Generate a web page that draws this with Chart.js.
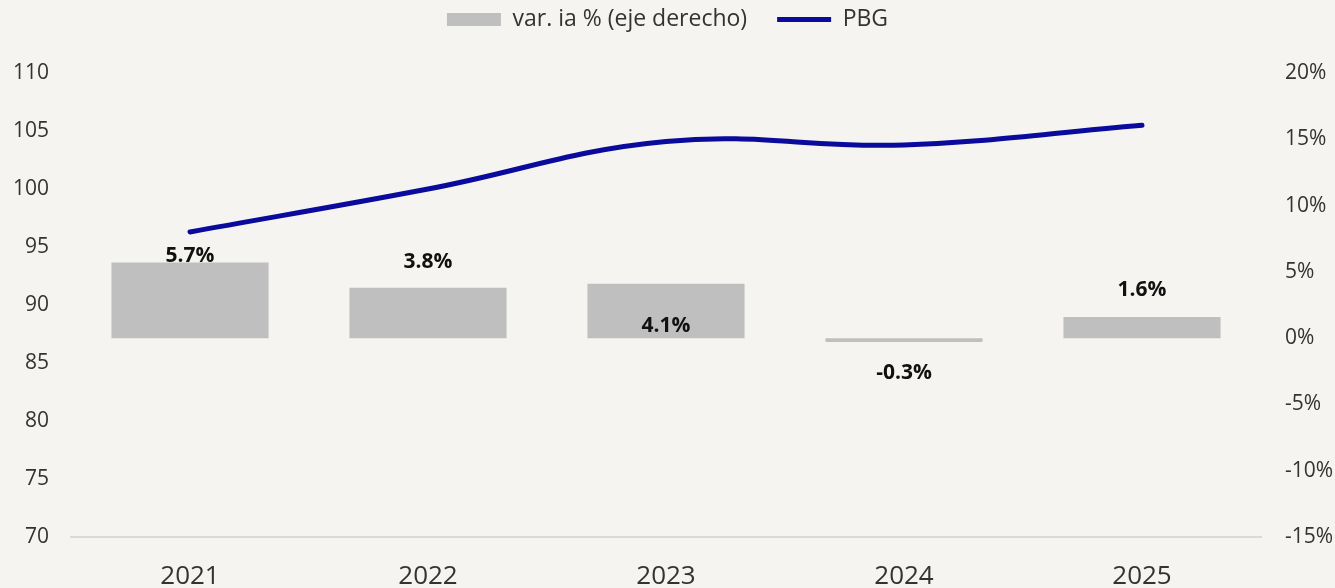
<!DOCTYPE html>
<html>
<head>
<meta charset="utf-8">
<script src="https://cdn.jsdelivr.net/npm/chart.js@4"></script>
<style>
  html, body { margin: 0; padding: 0; background: #f5f4f0; }
  #wrap { width: 1335px; height: 588px; }
</style>
</head>
<body>
<div id="wrap"><canvas id="pbgChart"></canvas></div>
<script>
const years = ["2021", "2022", "2023", "2024", "2025"];
const varIa = [5.7, 3.8, 4.1, -0.3, 1.6];
const pbg = [96.3, 100.0, 104.1, 103.8, 105.5];
const varLabels = ["5.7%", "3.8%", "4.1%", "-0.3%", "1.6%"];

const FONT = "'Open Sans', sans-serif";

// where Excel put each bar label, relative to the bar end
const labelShift = [-7, -26, 42, 31, -27];

const barLabels = {
  id: "barLabels",
  afterDatasetsDraw(chart) {
    const meta = chart.getDatasetMeta(0);
    const ctx = chart.ctx;
    ctx.save();
    ctx.font = "bold 21px " + FONT;
    ctx.fillStyle = "#111";
    ctx.textAlign = "center";
    ctx.textBaseline = "middle";
    meta.data.forEach((bar, i) => {
      ctx.fillText(varLabels[i], bar.x, bar.y + labelShift[i]);
    });
    ctx.restore();
  }
};

// push the plot down below the legend
const legendGap = {
  id: "legendGap",
  beforeInit(chart) {
    const fit = chart.legend.fit;
    chart.legend.fit = function () {
      fit.bind(chart.legend)();
      this.height += 32;
    };
  }
};

const ctx = document.getElementById("pbgChart").getContext("2d");

new Chart(ctx, {
  data: {
    labels: years,
    datasets: [
      {
        type: "bar",
        label: "var. ia % (eje derecho)",
        data: varIa,
        yAxisID: "y1",
        backgroundColor: "#bfbfbf",
        barPercentage: 0.66,
        categoryPercentage: 1
      },
      {
        type: "line",
        label: "PBG",
        data: pbg,
        yAxisID: "y",
        borderColor: "#0a0a9c",
        borderWidth: 5,
        borderCapStyle: "round",
        pointRadius: 0,
        tension: 0.4
      }
    ]
  },
  options: {
    responsive: true,
    maintainAspectRatio: false,
    animation: false,
    layout: { padding: { top: -22, left: 0, right: 0, bottom: 0 } },
    plugins: {
      tooltip: { enabled: false },
      legend: {
        position: "top",
        labels: {
          color: "#333",
          font: { family: FONT, size: 23 },
          usePointStyle: true,
          pointStyleWidth: 54,
          boxHeight: 13,
          padding: 30,
          generateLabels(chart) {
            const items = Chart.defaults.plugins.legend.labels.generateLabels(chart);
            items[0].pointStyle = "rect";
            items[0].lineWidth = 0;
            items[1].pointStyle = "line";
            items[1].lineWidth = 5;
            return items;
          }
        }
      }
    },
    scales: {
      x: {
        grid: { display: false, drawTicks: false },
        border: { display: true, color: "#d9d9d9", width: 2 },
        ticks: { color: "#333", font: { family: FONT, size: 26 }, padding: 24 },
        afterFit(scale) { scale.height = 51; }
      },
      y: {
        position: "left",
        min: 70,
        max: 110,
        grid: { display: false, drawTicks: false },
        border: { display: false },
        ticks: { stepSize: 5, color: "#333", font: { family: FONT, size: 21 }, padding: 22 },
        afterFit(scale) { scale.width = 71; }
      },
      y1: {
        position: "right",
        min: -15,
        max: 20,
        grid: { display: false, drawTicks: false },
        border: { display: false },
        ticks: {
          stepSize: 5,
          color: "#333",
          font: { family: FONT, size: 21 },
          padding: 24,
          callback: v => v + "%"
        },
        afterFit(scale) { scale.width = 74; }
      }
    }
  },
  plugins: [barLabels, legendGap]
});
</script>
</body>
</html>
